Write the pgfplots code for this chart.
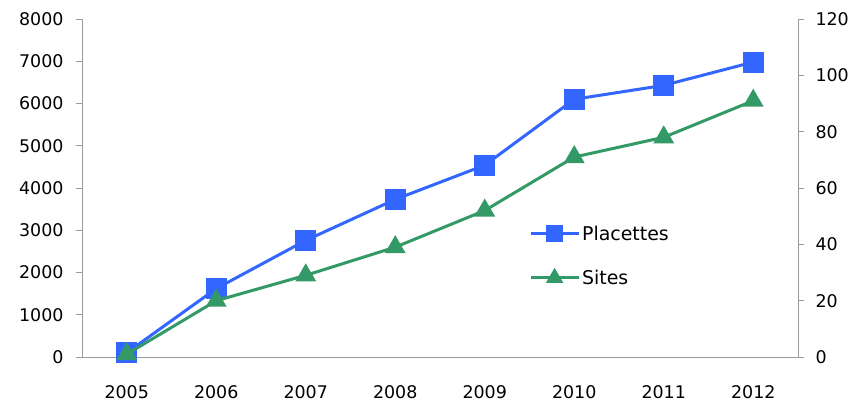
\documentclass[border=0pt]{standalone}
\usepackage{pgfplots}
\pgfplotsset{compat=1.18}
\usepackage{fontspec}
\setmainfont{DejaVu Sans}
\definecolor{placblue}{RGB}{51,102,255}
\definecolor{sitegreen}{RGB}{51,153,102}
\definecolor{axgray}{RGB}{155,155,155}

\begin{document}
\begin{tikzpicture}
\pgfplotsset{
  every axis/.append style={
    scale only axis, width=716bp, height=338bp,
    xmin=-0.5, xmax=7.5,
    font=\fontsize{17.5}{20}\selectfont,
    /pgf/number format/assume math mode=true,
    /pgf/number format/1000 sep={},
    axis line style={axgray, line width=0.9pt},
    tick style={axgray, line width=0.9pt},
    major tick length=6bp,
    tick align=outside,
  },
}
% left axis: Placettes
\begin{axis}[
  axis x line*=bottom, axis y line*=left,
  ymin=0, ymax=8000, ytick={0,1000,...,8000},
  xtick={0,...,7},
  xticklabels={2005,2006,2007,2008,2009,2010,2011,2012},
  x tick style={draw=none},
  extra x ticks={-0.5,0.5,...,7.5},
  extra x tick labels={},
  extra x tick style={x tick style={axgray, line width=0.9pt}},
  yticklabel style={xshift=-9bp},
  xticklabel style={yshift=-19bp},
]
  \addplot[placblue, line width=3bp, mark=square*, mark size=9bp] coordinates
  {(0,100) (1,1620) (2,2760) (3,3730) (4,4540) (5,6100) (6,6430) (7,6980)};
\end{axis}
% right axis: Sites
\begin{axis}[
  axis x line=none, axis y line*=right,
  ymin=0, ymax=120, ytick={0,20,...,120},
  yticklabel style={xshift=8bp},
  legend style={at={(0.62,0.40)}, anchor=north west, draw=none, fill=none,
    row sep=24bp, font=\fontsize{19}{21}\selectfont},
  legend cell align=left,
  legend image code/.code={%
    \draw[mark repeat=2, mark phase=2] plot coordinates {(0bp,0bp) (24bp,0bp) (48bp,0bp)};},
]
  \addlegendimage{placblue, line width=3bp, mark=square*, mark size=7bp}
  \addlegendentry{Placettes}
  \addlegendimage{sitegreen, line width=3bp, mark=triangle*, mark size=7bp}
  \addlegendentry{Sites}
  \addplot[sitegreen, line width=3bp, mark=triangle*, mark size=9bp, forget plot] coordinates
  {(0,1) (1,20) (2,29) (3,39) (4,52) (5,71) (6,78) (7,91)};
\end{axis}
\path[use as bounding box] ([xshift=-82bp,yshift=-45bp]current axis.south west)
  rectangle ([xshift=60bp,yshift=19bp]current axis.north east);
\end{tikzpicture}
\end{document}
